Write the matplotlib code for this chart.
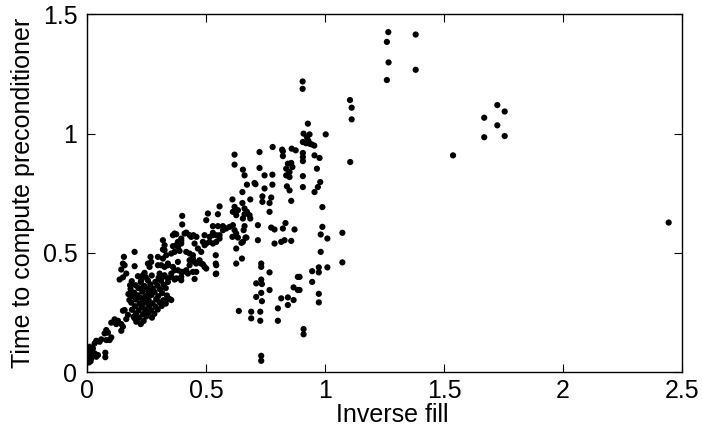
import matplotlib
matplotlib.use('Agg')
import matplotlib.pyplot as plt

plt.rcParams['font.family'] = ['Liberation Sans', 'DejaVu Sans']

# points, grouped roughly by region
# (inverse fill, time to compute preconditioner)
outliers = [
    (1.724, 1.12), (1.755, 1.093), (1.669, 1.067), (1.724, 1.035), (1.669, 0.985),
    (1.755, 0.99), (1.538, 0.909), (2.444, 0.627),
    (1.266, 1.426), (1.381, 1.416), (1.26, 1.385), (1.267, 1.299), (1.381, 1.268),
    (1.26, 1.225), (1.105, 1.141), (1.112, 1.109), (1.112, 1.06), (1.106, 0.881),
    (1.073, 0.584), (1.073, 0.46), (1.003, 0.997), (1.01, 0.56), (1.01, 0.439),
]
near_one = [
    (0.906, 1.219), (0.906, 1.188), (0.928, 1.042), (0.91, 1.0), (0.935, 0.997),
    (0.924, 0.985), (0.907, 0.965), (0.92, 0.96), (0.935, 0.958), (0.944, 0.955),
    (0.93, 0.97), (0.955, 0.95), (0.907, 0.919), (0.907, 0.902), (0.907, 0.885),
    (0.956, 0.909), (0.977, 0.898), (0.966, 0.853), (0.907, 0.822), (0.907, 0.776),
    (0.98, 0.797), (0.970, 0.776), (0.956, 0.755), (0.989, 0.692), (0.989, 0.609),
    (0.982, 0.577), (0.982, 0.504), (0.974, 0.439), (0.946, 0.423), (0.974, 0.418),
    (0.893, 0.399), (0.946, 0.378), (0.893, 0.344), (0.974, 0.328), (0.974, 0.292),
    (0.91, 0.18), (0.91, 0.158), (0.78, 0.944), (0.82, 0.933), (0.86, 0.937),
    (0.877, 0.93), (0.823, 0.926), (0.823, 0.906),
]
mid_upper = [
    (0.725, 0.923), (0.62, 0.912), (0.62, 0.87), (0.844, 0.874), (0.858, 0.877),
    (0.837, 0.853), (0.851, 0.839), (0.837, 0.825), (0.851, 0.818), (0.863, 0.86),
    (0.725, 0.856), (0.655, 0.849), (0.662, 0.825), (0.746, 0.825), (0.779, 0.828),
    (0.672, 0.786), (0.704, 0.793), (0.708, 0.788), (0.746, 0.77), (0.779, 0.786),
    (0.84, 0.779), (0.851, 0.762), (0.653, 0.755), (0.611, 0.724), (0.737, 0.737),
    (0.737, 0.714), (0.774, 0.732), (0.767, 0.709), (0.686, 0.724), (0.653, 0.709),
    (0.858, 0.718), (0.62, 0.693), (0.634, 0.679), (0.613, 0.672), (0.627, 0.658),
    (0.662, 0.686), (0.672, 0.672), (0.683, 0.658), (0.662, 0.662), (0.767, 0.672),
    (0.655, 0.644), (0.686, 0.644), (0.613, 0.616), (0.62, 0.595), (0.627, 0.581),
    (0.662, 0.612), (0.658, 0.595), (0.718, 0.616), (0.774, 0.606), (0.788, 0.598),
    (0.834, 0.625), (0.823, 0.602), (0.872, 0.598), (0.611, 0.567), (0.634, 0.564),
    (0.666, 0.564), (0.718, 0.553), (0.788, 0.539), (0.816, 0.546), (0.830, 0.553),
    (0.858, 0.55), (0.627, 0.518), (0.655, 0.546), (0.651, 0.476), (0.627, 0.455),
    (0.67, 0.564), (0.649, 0.542),
]
mid_lower = [
    (0.732, 0.455), (0.732, 0.441), (0.767, 0.418), (0.886, 0.399), (0.732, 0.388),
    (0.711, 0.372), (0.735, 0.369), (0.767, 0.344), (0.868, 0.355), (0.886, 0.344),
    (0.732, 0.332), (0.711, 0.315), (0.816, 0.309), (0.844, 0.313), (0.868, 0.302),
    (0.735, 0.297), (0.844, 0.281), (0.802, 0.267), (0.638, 0.256), (0.69, 0.253),
    (0.728, 0.253), (0.69, 0.225), (0.728, 0.215), (0.802, 0.215), (0.732, 0.068),
    (0.732, 0.047),
]
band = [
    (0.557, 0.695), (0.55, 0.662), (0.508, 0.665), (0.501, 0.637), (0.40, 0.655),
    (0.40, 0.619), (0.529, 0.612), (0.55, 0.612), (0.571, 0.612), (0.585, 0.602),
    (0.599, 0.609), (0.571, 0.595), (0.447, 0.574), (0.46, 0.567), (0.494, 0.574),
    (0.529, 0.574), (0.557, 0.574), (0.515, 0.567), (0.529, 0.584), (0.543, 0.574),
    (0.557, 0.56), (0.368, 0.581), (0.361, 0.574), (0.375, 0.578), (0.417, 0.585),
    (0.431, 0.574), (0.438, 0.567), (0.41, 0.581), (0.487, 0.546), (0.501, 0.539),
    (0.515, 0.546), (0.494, 0.532), (0.529, 0.539), (0.543, 0.546), (0.319, 0.553),
    (0.319, 0.514), (0.396, 0.55), (0.396, 0.539), (0.375, 0.532), (0.361, 0.528),
    (0.354, 0.497), (0.368, 0.504), (0.389, 0.508), (0.417, 0.504), (0.431, 0.497),
    (0.445, 0.49), (0.473, 0.469), (0.487, 0.452), (0.501, 0.434), (0.543, 0.448),
    (0.543, 0.413), (0.445, 0.476), (0.452, 0.462), (0.298, 0.483), (0.298, 0.448),
    (0.34, 0.448), (0.361, 0.441), (0.382, 0.427), (0.403, 0.42), (0.417, 0.427),
    (0.445, 0.42), (0.459, 0.42), (0.326, 0.406), (0.34, 0.393), (0.354, 0.399),
    (0.375, 0.393), (0.396, 0.385), (0.452, 0.539), (0.466, 0.518), (0.48, 0.504),
    (0.541, 0.49), (0.541, 0.455), (0.48, 0.455), (0.494, 0.441), (0.541, 0.411),
    (0.438, 0.469), (0.452, 0.39), (0.326, 0.532), (0.326, 0.511), (0.319, 0.476),
    (0.333, 0.49), (0.34, 0.455), (0.382, 0.546), (0.382, 0.525), (0.396, 0.56),
    (0.382, 0.462), (0.396, 0.42), (0.368, 0.427), (0.354, 0.413), (0.326, 0.441),
    (0.34, 0.378), (0.368, 0.388), (0.396, 0.399), (0.424, 0.413), (0.431, 0.448),
    (0.431, 0.469), (0.459, 0.455),
]
upper_chain = [
    (0.155, 0.483), (0.2, 0.504), (0.151, 0.455), (0.158, 0.448), (0.144, 0.43),
    (0.137, 0.388), (0.151, 0.397), (0.165, 0.413), (0.2, 0.444), (0.267, 0.483),
    (0.27, 0.462), (0.256, 0.455), (0.263, 0.441), (0.242, 0.416), (0.235, 0.406),
    (0.228, 0.385), (0.312, 0.448), (0.305, 0.413), (0.319, 0.399),
]
blob = [
    (0.214, 0.402), (0.247, 0.398), (0.272, 0.405), (0.301, 0.396),
    (0.188, 0.381), (0.226, 0.377), (0.256, 0.384), (0.287, 0.378), (0.311, 0.383),
    (0.204, 0.364), (0.241, 0.361), (0.266, 0.368), (0.296, 0.362), (0.322, 0.366),
    (0.183, 0.348), (0.216, 0.352), (0.251, 0.346), (0.276, 0.351), (0.307, 0.347), (0.331, 0.352),
    (0.198, 0.333), (0.232, 0.337), (0.262, 0.331), (0.284, 0.336), (0.316, 0.331),
    (0.191, 0.318), (0.213, 0.322), (0.246, 0.317), (0.271, 0.323), (0.299, 0.318), (0.336, 0.321),
    (0.206, 0.304), (0.234, 0.307), (0.259, 0.302), (0.291, 0.306), (0.321, 0.301), (0.346, 0.307),
    (0.186, 0.291), (0.221, 0.287), (0.249, 0.292), (0.276, 0.288), (0.304, 0.293), (0.331, 0.287),
    (0.202, 0.276), (0.229, 0.272), (0.261, 0.278), (0.288, 0.273), (0.314, 0.277),
    (0.189, 0.261), (0.217, 0.258), (0.244, 0.263), (0.269, 0.259), (0.297, 0.262),
    (0.206, 0.246), (0.236, 0.243), (0.258, 0.248), (0.283, 0.244),
    (0.196, 0.232), (0.221, 0.229), (0.249, 0.233), (0.273, 0.228),
    (0.211, 0.216), (0.238, 0.214), (0.226, 0.201),
    (0.354, 0.302), (0.34, 0.31), (0.178, 0.302), (0.174, 0.327), (0.181, 0.364),
    (0.232, 0.352), (0.254, 0.323), (0.238, 0.289), (0.262, 0.351), (0.224, 0.312),
]
lower_tail = [
    (0.2, 0.225), (0.207, 0.211), (0.151, 0.257), (0.158, 0.26), (0.116, 0.221),
    (0.13, 0.215), (0.102, 0.207), (0.123, 0.201), (0.144, 0.201), (0.151, 0.19),
    (0.144, 0.173), (0.081, 0.176), (0.088, 0.165), (0.074, 0.162), (0.102, 0.145),
    (0.095, 0.134), (0.081, 0.134), (0.06, 0.137), (0.039, 0.131), (0.053, 0.127),
    (0.032, 0.12), (0.011, 0.106), (0.004, 0.092), (0.018, 0.085), (0.025, 0.099),
    (0.011, 0.071), (0.004, 0.05), (0.018, 0.057), (0.032, 0.078), (0.039, 0.064),
    (0.046, 0.071), (0.077, 0.081), (0.077, 0.062), (0.008, 0.04), (0.015, 0.045),
    (0.172, 0.24), (0.165, 0.222),
]

all_pts = outliers + near_one + mid_upper + mid_lower + band + upper_chain + blob + lower_tail
inv_fill = [p[0] for p in all_pts]
precond_time = [p[1] for p in all_pts]

x_ticks = [0, 0.5, 1, 1.5, 2, 2.5]
x_labels = ['0', '0.5', '1', '1.5', '2', '2.5']
y_ticks = [0, 0.5, 1, 1.5]
y_labels = ['0', '0.5', '1', '1.5']

fig = plt.figure(figsize=(7.02, 4.4), dpi=100)
ax = fig.add_axes([87 / 702, 68 / 440, 595 / 702, 357.5 / 440])
ax.scatter(inv_fill, precond_time, s=20, c='k', edgecolors='none')

ax.set_xlim(0, 2.5)
ax.set_ylim(0, 1.5)
ax.set_xticks(x_ticks)
ax.set_xticklabels(x_labels)
ax.set_yticks(y_ticks)
ax.set_yticklabels(y_labels)
ax.tick_params(direction='in', top=True, right=True, length=6, width=0.8,
               labelsize=18, pad=5)
ax.tick_params(axis='y', pad=7)
for s in ax.spines.values():
    s.set_linewidth(1.0)

ax.set_xlabel('Inverse fill', fontsize=18)
ax.set_ylabel('Time to compute preconditioner', fontsize=18)
ax.xaxis.set_label_coords(0.513, -0.086)
ax.yaxis.set_label_coords(-0.088, 0.5)

fig.savefig('out.png', dpi=100)
